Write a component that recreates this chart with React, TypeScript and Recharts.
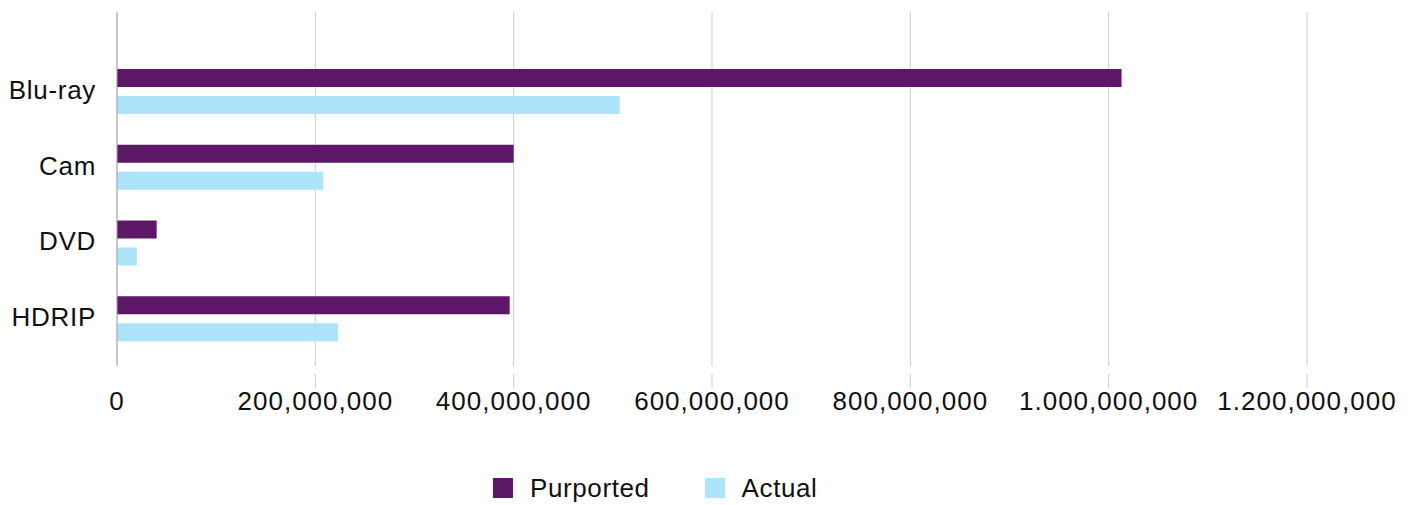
import { BarChart, Bar, XAxis, YAxis, CartesianGrid } from "recharts"

const categories = ["Blu-ray", "Cam", "DVD", "HDRIP"]
const purported = [1013000000, 400000000, 40000000, 396000000]
const actual = [507000000, 208000000, 20000000, 223000000]
const xTicks = [0, 200000000, 400000000, 600000000, 800000000, 1000000000, 1200000000]
const xTickLabels = ["0", "200,000,000", "400,000,000", "600,000,000", "800,000,000", "1.000,000,000", "1.200,000,000"]

const series = [
  { key: "purported", name: "Purported", color: "#5c1866" },
  { key: "actual", name: "Actual", color: "#ade3fb" },
]

const data = categories.map((name, i) => ({ name, purported: purported[i], actual: actual[i] }))

const FONT = "'Liberation Sans', Arial, sans-serif"

function XTick(props: any) {
  const { x, y, payload } = props
  const idx = xTicks.indexOf(payload.value)
  return (
    <g>
      {payload.value !== 0 && <line x1={x} x2={x} y1={y} y2={y + 14} stroke="#cccccc" />}
      <text x={x} y={y + 36} textAnchor="middle" fontSize={26} letterSpacing={1} fill="#111" fontFamily={FONT}>
        {xTickLabels[idx]}
      </text>
    </g>
  )
}

function YTick(props: any) {
  const { x, y, payload } = props
  return (
    <text x={x} y={y} dy={7} textAnchor="end" fontSize={26} letterSpacing={0.7} fill="#111" fontFamily={FONT}>
      {payload.value}
    </text>
  )
}

export default function App() {
  return (
    <div style={{ position: "absolute", left: 0, top: 0, width: 1413, height: 505, background: "#fff", fontFamily: FONT }}>
      <BarChart
        width={1413}
        height={440}
        data={data}
        layout="vertical"
        margin={{ top: 12, right: 106, left: 0, bottom: 0 }}
        barSize={18}
        barGap={9}
      >
        <CartesianGrid horizontal={false} stroke="#cccccc" />
        <XAxis
          type="number"
          domain={[0, 1200000000]}
          ticks={xTicks}
          interval={0}
          height={74}
          axisLine={false}
          tickLine={false}
          tick={<XTick />}
        />
        <YAxis
          type="category"
          dataKey="name"
          width={117}
          padding={{ top: 42, bottom: 9 }}
          axisLine={{ stroke: "#aaaaaa" }}
          tickLine={false}
          tickSize={0}
          tickMargin={21}
          tick={<YTick />}
        />
        {series.map((s) => (
          <Bar key={s.key} dataKey={s.key} name={s.name} fill={s.color} isAnimationActive={false} />
        ))}
      </BarChart>

      <div style={{ display: "flex", alignItems: "center", marginLeft: 493, marginTop: 38 }}>
        {series.map((s, i) => (
          <div key={s.key} style={{ display: "flex", alignItems: "center", marginLeft: i === 0 ? 0 : 55 }}>
            <div style={{ width: 20, height: 20, backgroundColor: s.color }} />
            <div style={{ marginLeft: 17, fontSize: 26, lineHeight: "20px", letterSpacing: 0.6, color: "#111" }}>{s.name}</div>
          </div>
        ))}
      </div>
    </div>
  )
}
